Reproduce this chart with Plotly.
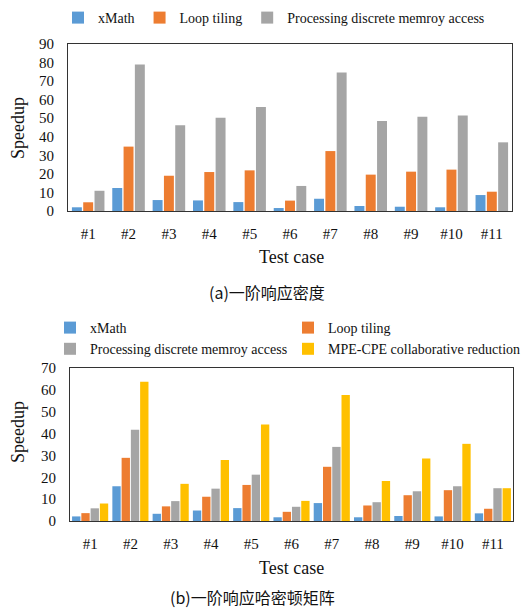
import plotly.graph_objects as go

# Test cases shared by both panels
cases = ["#1", "#2", "#3", "#4", "#5", "#6", "#7", "#8", "#9", "#10", "#11"]

# (a) first-order response density
a_xmath = [2.0, 12.4, 5.9, 5.7, 4.8, 1.6, 6.6, 2.7, 2.3, 2.0, 8.6]
a_tiling = [4.7, 34.7, 19.0, 21.0, 21.9, 5.6, 32.3, 19.6, 21.2, 22.3, 10.4]
a_discrete = [10.9, 79.0, 46.2, 50.3, 56.0, 13.5, 74.6, 48.5, 50.8, 51.4, 37.0]

# (b) first-order response Hessian matrix
b_xmath = [2.1, 15.9, 3.3, 4.8, 5.9, 1.7, 8.2, 1.7, 2.3, 2.1, 3.5]
b_tiling = [3.6, 28.9, 6.7, 11.1, 16.5, 4.2, 24.8, 7.1, 11.8, 14.1, 5.6]
b_discrete = [5.8, 41.7, 9.1, 14.8, 21.2, 6.5, 33.9, 8.6, 13.6, 15.9, 15.0]
b_mpecpe = [8.0, 63.7, 17.0, 27.9, 44.1, 9.2, 57.6, 18.3, 28.6, 35.3, 15.0]

names = ["xMath", "Loop tiling", "Processing discrete memroy access",
         "MPE-CPE collaborative reduction"]
colors = ["#5B9BD5", "#ED7D31", "#A5A5A5", "#FFC000"]

SERIF = "Liberation Serif"
CJK = "Noto Sans CJK SC"

fig = go.Figure()


def add_group(series, xaxis, yaxis, legend, group_w, bar_frac):
    n = len(series)
    slot = group_w / n
    bw = slot * bar_frac
    for i, vals in enumerate(series):
        fig.add_trace(go.Bar(
            x=cases, y=vals, name=names[i],
            marker=dict(color=colors[i], line=dict(width=0)),
            width=bw, offset=-group_w / 2 + i * slot + (slot - bw) / 2,
            xaxis=xaxis, yaxis=yaxis, legend=legend,
        ))


add_group([a_xmath, a_tiling, a_discrete], "x", "y", "legend", 0.84, 0.88)
add_group([b_xmath, b_tiling, b_discrete, b_mpecpe], "x2", "y2", "legend2", 0.92, 0.9)

W, H = 532, 611


def px_y(p):
    return 1 - p / H


def px_x(p):
    return p / W


frame = dict(showline=True, linecolor="#333333", linewidth=1.2, mirror=True,
             showgrid=False, zeroline=False, automargin=False)
xticks = dict(ticks="outside", ticklen=9, tickcolor="rgba(0,0,0,0)",
              tickfont=dict(size=15))
yticks = dict(ticks="outside", ticklen=10, tickcolor="rgba(0,0,0,0)",
              tickfont=dict(size=15))

fig.update_layout(
    width=W, height=H,
    margin=dict(l=0, r=0, t=0, b=0, autoexpand=False),
    paper_bgcolor="white", plot_bgcolor="white",
    barmode="overlay",
    font=dict(family=SERIF, size=14, color="#111111"),
    xaxis=dict(domain=[px_x(68), px_x(512)], anchor="y", **frame, **xticks),
    yaxis=dict(domain=[px_y(211), px_y(44)], anchor="x", range=[0, 90],
               dtick=10, **frame, **yticks),
    xaxis2=dict(domain=[px_x(70), px_x(513)], anchor="y2", **frame, **xticks),
    yaxis2=dict(domain=[px_y(521), px_y(368)], anchor="x2", range=[0, 70],
                dtick=10, **frame, **yticks),
    legend=dict(orientation="h", x=px_x(58), y=px_y(2), xanchor="left",
                yanchor="top", bgcolor="rgba(0,0,0,0)",
                font=dict(family=SERIF, size=14), itemwidth=30,
                traceorder="normal"),
    legend2=dict(orientation="h", x=px_x(50), y=px_y(312), xanchor="left",
                 yanchor="top", bgcolor="rgba(0,0,0,0)",
                 font=dict(family=SERIF, size=14), itemwidth=30,
                 entrywidth=193, entrywidthmode="pixels",
                 traceorder="normal"),
    showlegend=True,
)

annotations = [
    dict(text="Speedup", x=px_x(18), y=px_y(128), textangle=-90,
         font=dict(size=18)),
    dict(text="Test case", x=px_x(291), y=px_y(257), font=dict(size=18)),
    dict(text="(a)一阶响应密度", x=px_x(267), y=px_y(292),
         font=dict(family=CJK, size=16)),
    dict(text="Speedup", x=px_x(18), y=px_y(432), textangle=-90,
         font=dict(size=18)),
    dict(text="Test case", x=px_x(291), y=px_y(568), font=dict(size=18)),
    dict(text="(b)一阶响应哈密顿矩阵", x=px_x(252), y=px_y(597),
         font=dict(family=CJK, size=16)),
]
for a in annotations:
    a.update(xref="paper", yref="paper", showarrow=False,
             xanchor="center", yanchor="middle")
fig.update_layout(annotations=annotations)

fig.write_html("out.html")
